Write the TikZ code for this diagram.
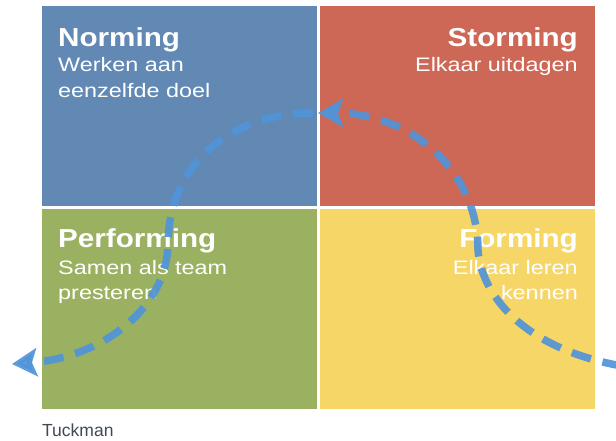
\documentclass[tikz,border=0pt]{standalone}
\usepackage{fontspec}
\setmainfont{Liberation Sans}
\newfontfamily\ttlfont[FakeStretch=1.14]{Liberation Sans}
\newfontfamily\subfont[FakeStretch=1.2]{Liberation Sans}
\usetikzlibrary{arrows.meta}
\definecolor{qblue}{HTML}{6288B4}
\definecolor{qred}{HTML}{CD6756}
\definecolor{qgreen}{HTML}{9BB162}
\definecolor{qyellow}{HTML}{F7D668}
\definecolor{flowblue}{HTML}{5094D8}
\definecolor{capgray}{HTML}{404A55}
\begin{document}
\begin{tikzpicture}[x=1pt,y=-1pt,
  quad/.style={draw=none, inner sep=0pt, outer sep=0pt, minimum width=275pt, minimum height=200pt},
  ttl/.style={text=white, inner sep=0pt, font=\ttlfont\bfseries\fontsize{26}{30}\selectfont},
  sub/.style={text=white, inner sep=0pt, font=\subfont\fontsize{19.5}{24}\selectfont},
  flow/.style={draw=flowblue, line width=7.5pt, dash pattern=on 20pt off 12pt,
    -{Stealth[length=25pt,width=28pt,inset=5pt]}}
]
\useasboundingbox (0,0) rectangle (616,441);
% quadrants
\node[quad, fill=qblue]   (norming)    at (179.5,106) {};
\node[quad, fill=qred]    (storming)   at (457.5,106) {};
\node[quad, fill=qgreen]  (performing) at (179.5,309) {};
\node[quad, fill=qyellow] (forming)    at (457.5,309) {};
% texts
\node[ttl, anchor=base west] (tN) at (58,47) {Norming};
\node[sub, anchor=base west] (sN1) at (58,72) {Werken aan};
\node[sub, anchor=base west] (sN2) at (58,97.5) {eenzelfde doel};
\node[ttl, anchor=base east] (tS) at (578,47) {Storming};
\node[sub, anchor=base east] (sS1) at (578,72) {Elkaar uitdagen};
\node[ttl, anchor=base west] (tP) at (58,247) {Performing};
\node[sub, anchor=base west] (sP1) at (58,274) {Samen als team};
\node[sub, anchor=base west] (sP2) at (58,299) {presteren};
\node[ttl, anchor=base east] (tF) at (578,247) {Forming};
\node[sub, anchor=base east] (sF1) at (578,274) {Elkaar leren};
\node[sub, anchor=base east] (sF2) at (578,299) {kennen};
\node[text=capgray, inner sep=0pt, anchor=base west, font=\fontsize{17.5}{20}\selectfont] (cap) at (42,436) {Tuckman};
% flow
\coordinate (rstart) at (622,366);
\coordinate (rmid) at (478,250);
\coordinate (top) at (318,113);
\coordinate (lstart) at (313,113);
\coordinate (lmid) at (168,245);
\coordinate (ltip) at (12,364);
\draw[flow, opacity=0.92] (rstart) .. controls (530,350) and (482,300) .. (rmid)
  .. controls (478,170) and (410,113) .. (top);
\draw[flow, opacity=0.92] (lstart) .. controls (230,113) and (168,165) .. (lmid)
  .. controls (166,310) and (100,358) .. (ltip);
\end{tikzpicture}
\end{document}
